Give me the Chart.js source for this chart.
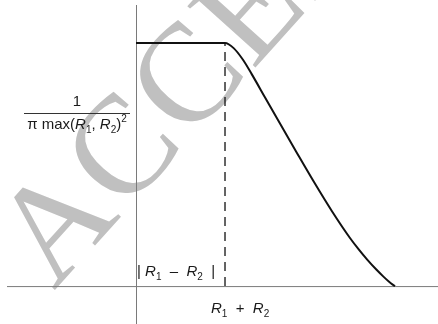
<!DOCTYPE html>
<html>
<head>
<meta charset="utf-8">
<script src="https://cdn.jsdelivr.net/npm/chart.js@4.4.0/dist/chart.umd.min.js"></script>
<style>
  html, body { margin: 0; padding: 0; background: #fff; }
  #wrap { width: 438px; height: 324px; }
</style>
</head>
<body>
<div id="wrap"><canvas id="overlapcanvas"></canvas></div>
<script>
// separation d (in units of |R1 - R2|) and the normalised overlap value
var distance = [0, 1.0, 1.1, 1.2, 1.3, 1.45, 1.6, 1.8, 2.0, 2.2, 2.4, 2.5, 2.6, 2.7, 2.78, 2.84, 2.88, 2.91];
var overlap  = [1, 1, 0.978, 0.932, 0.872, 0.776, 0.680, 0.553, 0.428, 0.309, 0.200, 0.152, 0.108, 0.068, 0.039, 0.019, 0.007, 0];

// where the dashed marker stands: d = |R1 - R2|
var markerX = 1.0;
var markerTop = 1.0;

// label text, as runs of [text, style]
var yLabelNum = '1';
var yLabelDen = [['\u03c0 max(', 'n'], ['R', 'i'], ['1', 'sub'], [', ', 'n'], ['R', 'i'], ['2', 'sub'], [')', 'n'], ['2', 'sup']];
var diffLabel = [['| ', 'n'], ['R', 'i'], ['1', 'sub'], ['  \u2013  ', 'n'], ['R', 'i'], ['2', 'sub'], ['  |', 'n']];
var sumLabel  = [['R', 'i'], ['1', 'sub'], ['  +  ', 'n'], ['R', 'i'], ['2', 'sub']];

var watermark = 'ACCEPTED MANUSCRIPT';

var FONT = '"Liberation Sans", Arial, sans-serif';

function runFont(style) {
  if (style == 'i') return 'italic 15px ' + FONT;
  if (style == 'sub' || style == 'sup') return '10px ' + FONT;
  return '15px ' + FONT;
}

function runsWidth(ctx, runs) {
  var w = 0;
  for (var i in runs) {
    ctx.font = runFont(runs[i][1]);
    w += ctx.measureText(runs[i][0]).width;
  }
  return w;
}

function drawRuns(ctx, runs, x, y) {
  ctx.textAlign = 'left';
  ctx.textBaseline = 'alphabetic';
  for (var i in runs) {
    var st = runs[i][1];
    ctx.font = runFont(st);
    var dy = 0;
    if (st == 'sub') dy = 4;
    if (st == 'sup') dy = -7;
    ctx.fillText(runs[i][0], x, y + dy);
    x += ctx.measureText(runs[i][0]).width;
  }
}

var labelsPlugin = {
  id: 'labels',
  beforeDraw: function(chart) {
    var ctx = chart.ctx;
    ctx.save();
    ctx.fillStyle = '#fff';
    ctx.fillRect(0, 0, chart.width, chart.height);
    // diagonal watermark behind everything
    ctx.translate(54, 291);
    ctx.rotate(-48 * Math.PI / 180);
    ctx.font = '140px "Liberation Serif", "Times New Roman", serif';
    ctx.letterSpacing = '3px';
    ctx.fillStyle = '#c0c0c0';
    ctx.textAlign = 'left';
    ctx.textBaseline = 'alphabetic';
    ctx.fillText(watermark, 0, 0);
    ctx.restore();
  },
  beforeDatasetsDraw: function(chart) {
    var ctx = chart.ctx;
    var xs = chart.scales.x, ys = chart.scales.y;
    var x0 = xs.getPixelForValue(0), y0 = ys.getPixelForValue(0);
    ctx.save();
    ctx.strokeStyle = '#7a7a7a';
    ctx.lineWidth = 1;
    ctx.beginPath();
    ctx.moveTo(7, y0 + 0.5);
    ctx.lineTo(chart.width, y0 + 0.5);
    ctx.moveTo(Math.round(x0) + 0.5, 5);
    ctx.lineTo(Math.round(x0) + 0.5, chart.height);
    ctx.stroke();
    ctx.restore();
  },
  afterDraw: function(chart) {
    var ctx = chart.ctx;
    var xs = chart.scales.x, ys = chart.scales.y;
    var x0 = xs.getPixelForValue(0), y0 = ys.getPixelForValue(0);
    ctx.save();
    ctx.fillStyle = '#1a1a1a';

    // fraction on the left of the vertical axis
    var cx = 77, barY = 113;
    ctx.font = '15px ' + FONT;
    ctx.textAlign = 'center';
    ctx.fillText(yLabelNum, cx, barY - 7);
    var dw = runsWidth(ctx, yLabelDen);
    drawRuns(ctx, yLabelDen, cx - dw / 2, barY + 16);
    ctx.strokeStyle = '#333';
    ctx.lineWidth = 1;
    ctx.beginPath();
    ctx.moveTo(24, barY + 0.5);
    ctx.lineTo(130, barY + 0.5);
    ctx.stroke();

    drawRuns(ctx, diffLabel, x0 + 1, y0 - 10);
    drawRuns(ctx, sumLabel, x0 + 75, y0 + 27);
    ctx.restore();
  }
};

var pts = [];
for (var i in distance) pts.push({x: distance[i], y: overlap[i]});

var ctx = document.getElementById('overlapcanvas');

var chart = new Chart(ctx, {
  type: 'line',
  data: {
    datasets: [
      {
        label: 'overlap',
        data: pts,
        borderColor: '#111',
        borderWidth: 2,
        pointRadius: 0,
        cubicInterpolationMode: 'monotone',
        fill: false
      },
      {
        label: 'marker',
        data: [{x: markerX, y: 0}, {x: markerX, y: markerTop}],
        borderColor: '#111',
        borderWidth: 1.3,
        borderDash: [9, 6],
        pointRadius: 0,
        fill: false
      }
    ]
  },
  options: {
    responsive: true,
    maintainAspectRatio: false,
    animation: false,
    layout: { padding: 0 },
    plugins: { legend: { display: false }, tooltip: { enabled: false } },
    scales: {
      x: { type: 'linear', min: -1.528, max: 3.393, display: false },
      y: { type: 'linear', min: -0.156, max: 1.177, display: false }
    }
  },
  plugins: [labelsPlugin]
});
</script>
</body>
</html>
